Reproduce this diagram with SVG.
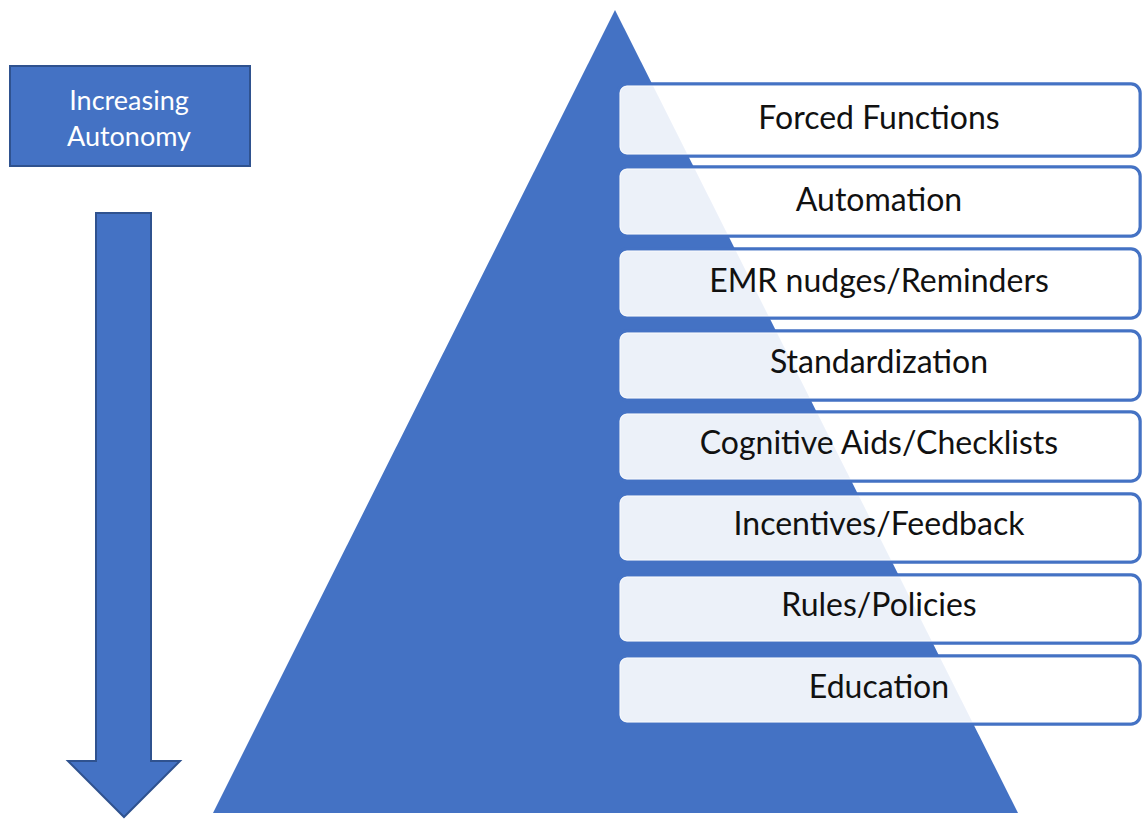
<svg xmlns="http://www.w3.org/2000/svg" width="1142" height="819" viewBox="0 0 1142 819">
  <style>
    .tier rect.edge { fill: #ffffff; fill-opacity: 0.9; stroke: #4472C4; stroke-width: 3.5; }
    .tier rect.hl { fill: none; stroke: #ffffff; stroke-width: 1; stroke-opacity: 0.8; }
    .tier text { font-family: Lato, "Open Sans", "Liberation Sans", sans-serif; font-size: 32px; fill: #111111; text-anchor: middle; }
    .label text { font-family: Lato, "Open Sans", "Liberation Sans", sans-serif; font-size: 27px; fill: #ffffff; text-anchor: middle; }
  </style>

  <!-- pyramid -->
  <g id="pyramid">
    <polygon points="615,10 1018,813 213,813" fill="#4472C4"/>
  </g>

  <!-- caption box -->
  <g id="increasing-autonomy" class="label">
    <rect x="10" y="66" width="240" height="100" fill="#4472C4" stroke="#2F528F" stroke-width="2"/>
    <text x="129" y="110">Increasing</text>
    <text x="129" y="146">Autonomy</text>
  </g>

  <!-- downward arrow -->
  <g id="connectors">
    <polygon points="96,213 151,213 151,761 180,761 124,817 68,761 96,761" fill="#4472C4" stroke="#2F528F" stroke-width="2" stroke-linejoin="miter"/>
  </g>

  <!-- tiers, top to bottom -->
  <g id="tier-forced-functions" class="tier">
    <rect class="edge" x="618" y="84" width="522" height="72" rx="9"/>
    <rect class="hl" x="620" y="86" width="518" height="68" rx="7"/>
    <text x="879" y="129">Forced Functions</text>
  </g>
  <g id="tier-automation" class="tier">
    <rect class="edge" x="618" y="167" width="522" height="69" rx="9"/>
    <rect class="hl" x="620" y="169" width="518" height="65" rx="7"/>
    <text x="879" y="211">Automation</text>
  </g>
  <g id="tier-emr-nudges" class="tier">
    <rect class="edge" x="618" y="249" width="522" height="69" rx="9"/>
    <rect class="hl" x="620" y="251" width="518" height="65" rx="7"/>
    <text x="879" y="292">EMR nudges/Reminders</text>
  </g>
  <g id="tier-standardization" class="tier">
    <rect class="edge" x="618" y="331" width="522" height="69" rx="9"/>
    <rect class="hl" x="620" y="333" width="518" height="65" rx="7"/>
    <text x="879" y="373">Standardization</text>
  </g>
  <g id="tier-cognitive-aids" class="tier">
    <rect class="edge" x="618" y="412" width="522" height="69" rx="9"/>
    <rect class="hl" x="620" y="414" width="518" height="65" rx="7"/>
    <text x="879" y="454">Cognitive Aids/Checklists</text>
  </g>
  <g id="tier-incentives" class="tier">
    <rect class="edge" x="618" y="494" width="522" height="68" rx="9"/>
    <rect class="hl" x="620" y="496" width="518" height="64" rx="7"/>
    <text x="879" y="535">Incentives/Feedback</text>
  </g>
  <g id="tier-rules" class="tier">
    <rect class="edge" x="618" y="575" width="522" height="68" rx="9"/>
    <rect class="hl" x="620" y="577" width="518" height="64" rx="7"/>
    <text x="879" y="616">Rules/Policies</text>
  </g>
  <g id="tier-education" class="tier">
    <rect class="edge" x="618" y="656" width="522" height="68" rx="9"/>
    <rect class="hl" x="620" y="658" width="518" height="64" rx="7"/>
    <text x="879" y="698">Education</text>
  </g>
</svg>
